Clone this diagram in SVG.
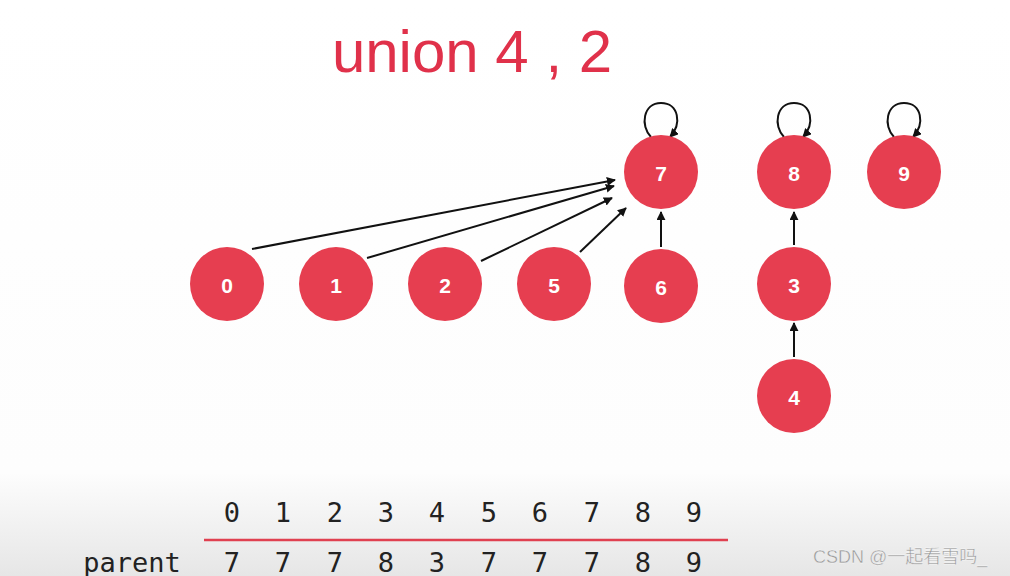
<svg xmlns="http://www.w3.org/2000/svg" width="1010" height="576" viewBox="0 0 1010 576">
<defs>
<linearGradient id="bg" x1="0" y1="0" x2="0" y2="1">
<stop offset="0" stop-color="#ffffff"/>
<stop offset="0.82" stop-color="#fdfdfd"/>
<stop offset="1" stop-color="#e6e6e6"/>
</linearGradient>
<marker id="ah" viewBox="0 0 10 10" refX="9" refY="5" markerWidth="9" markerHeight="9" markerUnits="userSpaceOnUse" orient="auto">
<path d="M0,0 L10,5 L0,10 z" fill="#111"/>
</marker>
<style>
.node circle{fill:#e63e50}
.node text{fill:#fff;font-family:"Liberation Sans",Arial,sans-serif;font-weight:bold;font-size:21px;text-anchor:middle;dominant-baseline:central}
.edge{stroke:#111;stroke-width:2;fill:none;marker-end:url(#ah)}
.mono{font-family:"DejaVu Sans Mono",monospace;font-size:27px;fill:#222}
</style>
</defs>
<rect width="1010" height="576" fill="url(#bg)"/>
<text x="472" y="72" font-family="Liberation Sans,Arial,sans-serif" font-size="60" fill="#e0314a" text-anchor="middle">union 4 , 2</text>
<g id="connectors">
<path class="edge" d="M252,249 L615,180"/>
<path class="edge" d="M367,258 L614,186"/>
<path class="edge" d="M481,261 L612,198"/>
<path class="edge" d="M580,252 L626,208"/>
<path class="edge" d="M661,247 L661,212"/>
<path class="edge" d="M794,245 L794,212"/>
<path class="edge" d="M794,357 L794,323"/>
<path class="edge" d="M651,137 C640,126 643,103 661,103 C679,103 682,124 670,137"/>
<path class="edge" d="M784,137 C773,126 776,103 794,103 C812,103 815,124 803,137"/>
<path class="edge" d="M894,137 C883,126 886,103 904,103 C922,103 925,124 913,137"/>
</g>
<g id="n7" class="node"><circle cx="661" cy="172" r="37"/><text x="661" y="173">7</text></g>
<g id="n8" class="node"><circle cx="794" cy="172" r="37"/><text x="794" y="173">8</text></g>
<g id="n9" class="node"><circle cx="904" cy="172" r="37"/><text x="904" y="173">9</text></g>
<g id="n0" class="node"><circle cx="227" cy="284" r="37"/><text x="227" y="285">0</text></g>
<g id="n1" class="node"><circle cx="336" cy="284" r="37"/><text x="336" y="285">1</text></g>
<g id="n2" class="node"><circle cx="445" cy="284" r="37"/><text x="445" y="285">2</text></g>
<g id="n5" class="node"><circle cx="554" cy="284" r="37"/><text x="554" y="285">5</text></g>
<g id="n6" class="node"><circle cx="661" cy="286" r="37"/><text x="661" y="287">6</text></g>
<g id="n3" class="node"><circle cx="794" cy="284" r="37"/><text x="794" y="285">3</text></g>
<g id="n4" class="node"><circle cx="794" cy="396" r="37"/><text x="794" y="397">4</text></g>
<g id="table" class="mono" text-anchor="middle">
<text x="232" y="522">0</text><text x="283" y="522">1</text><text x="335" y="522">2</text><text x="386" y="522">3</text><text x="437" y="522">4</text><text x="489" y="522">5</text><text x="540" y="522">6</text><text x="592" y="522">7</text><text x="643" y="522">8</text><text x="694" y="522">9</text>
<text x="132" y="572">parent</text>
<text x="232" y="572">7</text><text x="283" y="572">7</text><text x="335" y="572">7</text><text x="386" y="572">8</text><text x="437" y="572">3</text><text x="489" y="572">7</text><text x="540" y="572">7</text><text x="592" y="572">7</text><text x="643" y="572">8</text><text x="694" y="572">9</text>
</g>
<line x1="204" y1="540" x2="728" y2="540" stroke="#e04050" stroke-width="2.5"/>
<text x="813" y="563" font-family="Liberation Sans,'Noto Sans CJK SC',sans-serif" font-size="18" fill="#999" stroke="#fff" stroke-width="0.3">CSDN @一起看雪吗_</text>
</svg>
